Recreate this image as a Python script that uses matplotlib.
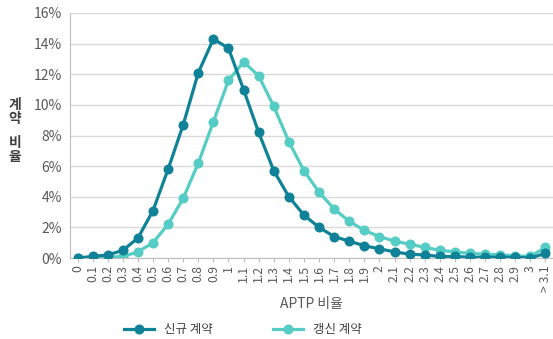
import matplotlib.pyplot as plt
import numpy as np

plt.rcParams['font.family'] = ['Noto Sans CJK KR', 'DejaVu Sans']

categories = ['0', '0.1', '0.2', '0.3', '0.4', '0.5', '0.6', '0.7', '0.8', '0.9', '1',
              '1.1', '1.2', '1.3', '1.4', '1.5', '1.6', '1.7', '1.8', '1.9', '2',
              '2.1', '2.2', '2.3', '2.4', '2.5', '2.6', '2.7', '2.8', '2.9', '3', '> 3.1']

new_contract = [0.0, 0.1, 0.2, 0.5, 1.3, 3.1, 5.8, 8.7, 12.1, 14.3, 13.7,
                11.0, 8.2, 5.7, 4.0, 2.8, 2.0, 1.4, 1.1, 0.8, 0.6,
                0.4, 0.25, 0.2, 0.1, 0.1, 0.05, 0.05, 0.05, 0.05, 0.0, 0.3]

renewal = [0.0, 0.05, 0.05, 0.1, 0.4, 1.0, 2.2, 3.9, 6.2, 8.9, 11.6,
           12.8, 11.9, 9.9, 7.6, 5.7, 4.3, 3.2, 2.4, 1.8, 1.4,
           1.1, 0.9, 0.7, 0.5, 0.4, 0.3, 0.25, 0.2, 0.15, 0.1, 0.7]

dark = '#0f8297'
light = '#55cdc4'
grey = '#595959'

fig = plt.figure(figsize=(5.53, 3.39), dpi=100)
ax = fig.add_axes([70 / 553, 1 - 258 / 339, 483 / 553, 245 / 339])

x = np.arange(len(categories))
ax.plot(x, new_contract, color=dark, lw=2.3, marker='o', ms=6.2, label='신규 계약', zorder=3)
ax.plot(x, renewal, color=light, lw=2.3, marker='o', ms=6.2, label='갱신 계약', zorder=2)

ax.set_xlim(-0.5, len(categories) - 0.5)
ax.set_ylim(0, 16)
ax.set_yticks(np.arange(0, 17, 2))
ax.set_yticklabels([f'{v}%' for v in range(0, 17, 2)], fontsize=10, color=grey)
ax.set_xticks(x)
ax.set_xticklabels(categories, rotation=90, fontsize=8.8, color=grey)
ax.tick_params(axis='y', length=0, pad=6)
ax.tick_params(axis='x', length=3, color='#bfbfbf', pad=2)

ax.grid(axis='y', color='#d9d9d9', lw=1)
ax.set_axisbelow(True)
for s in ['top', 'right']:
    ax.spines[s].set_visible(False)
ax.spines['left'].set_color('#bfbfbf')
ax.spines['bottom'].set_color('#bfbfbf')

ax.set_xlabel('APTP 비율', fontsize=10, color=grey, labelpad=4)
fig.text(15 / 553, 1 - 112 / 339, '계\n약', fontsize=10, fontweight='bold',
         color='#404040', ha='center', va='center', linespacing=1.0)
fig.text(15 / 553, 1 - 150 / 339, '비\n율', fontsize=10, fontweight='bold',
         color='#404040', ha='center', va='center', linespacing=1.0)

fig.legend(loc='center', bbox_to_anchor=(243 / 553, 1 - 330 / 339), ncol=2,
           frameon=False, fontsize=9, handlelength=2.4, columnspacing=4.8,
           labelcolor='#404040')

fig.savefig('out.png', dpi=100)
